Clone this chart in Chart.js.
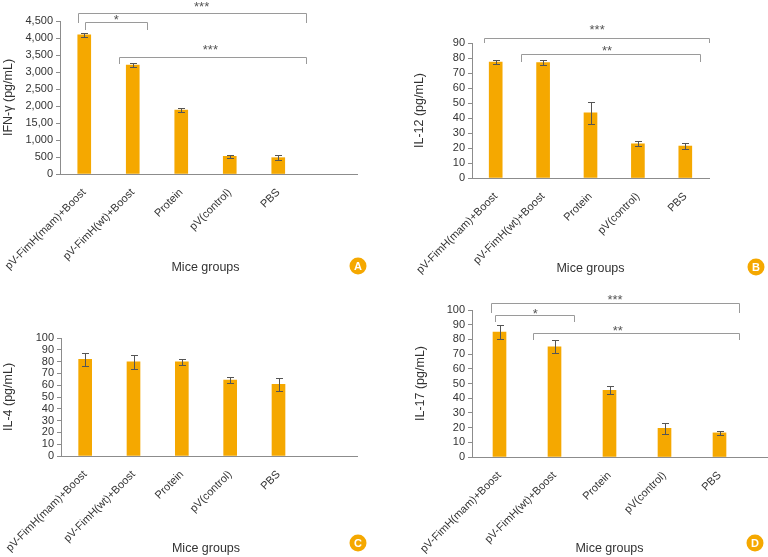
<!DOCTYPE html>
<html>
<head>
<meta charset="utf-8">
<script src="https://cdn.jsdelivr.net/npm/chart.js@4.4.1/dist/chart.umd.min.js"></script>
<style>
  html, body { margin: 0; padding: 0; background: #fff; }
  #wrap { position: relative; width: 768px; height: 557px; }
  canvas { position: absolute; }
</style>
</head>
<body>
<div id="wrap">
  <canvas id="chartA" width="384" height="278" style="left:0;top:0"></canvas>
  <canvas id="chartB" width="384" height="278" style="left:384px;top:0"></canvas>
  <canvas id="chartC" width="384" height="279" style="left:0;top:278px"></canvas>
  <canvas id="chartD" width="384" height="279" style="left:384px;top:278px"></canvas>
</div>
<script>
const groups = ['pV-FimH(mam)+Boost', 'pV-FimH(wt)+Boost', 'Protein', 'pV(control)', 'PBS'];

const ifnG = [4090, 3200, 1880, 520, 480];
const ifnGErr = [70, 55, 60, 50, 65];
const il12 = [77.2, 77, 43.5, 22.8, 21.3];
const il12Err = [1.5, 1.5, 7.2, 1.6, 1.8];
const il4 = [82, 79.7, 79.9, 64.4, 60.7];
const il4Err = [5.5, 5.6, 2.5, 2.6, 5.4];
const il17 = [85, 75, 45.4, 19.5, 16.4];
const il17Err = [5, 4.4, 2.7, 3.6, 1.6];

const yTicksA = ['0', '500', '1,000', '15,00', '2,000', '2,500', '3,000', '3,500', '4,000', '4,500'];
const yTicksB = ['0', '10', '20', '30', '40', '50', '60', '70', '80', '90'];
const yTicksC = ['0', '10', '20', '30', '40', '50', '60', '70', '80', '90', '100'];
const yTicksD = ['0', '10', '20', '30', '40', '50', '60', '70', '80', '90', '100'];

// significance brackets (category index from/to, line level, end level, label and its spot)
const sigA = [
  { from: -0.13, to: 4.57, y: 4726, drop: 4441, label: '***', lx: 2.42, ly: 5000 },
  { from: 0.02, to: 1.3, y: 4479, drop: 4235, label: '*', lx: 0.66, ly: 4590 },
  { from: 0.71, to: 4.57, y: 3432, drop: 3235, label: '***', lx: 2.6, ly: 3735 }
];
const sigB = [
  { from: -0.25, to: 4.5, y: 93.3, drop: 89.8, label: '***', lx: 2.14, ly: 100.5 },
  { from: 0.53, to: 4.31, y: 82.5, drop: 77.1, label: '**', lx: 2.35, ly: 86.5 }
];
const sigD = [
  { from: -0.16, to: 4.35, y: 104.6, drop: 98, label: '***', lx: 2.1, ly: 108.8 },
  { from: -0.08, to: 1.35, y: 96.6, drop: 91.8, label: '*', lx: 0.65, ly: 99.3 },
  { from: 0.61, to: 4.35, y: 84.4, drop: 79.6, label: '**', lx: 2.15, ly: 87.1 }
];

const ORANGE = '#F5A800';
const AXIS = '#8c8c8c';
const TEXT = '#333';
const FONT = "'Liberation Sans', Arial, sans-serif";

const extras = {
  id: 'extras',
  afterDatasetsDraw(chart, args, opts) {
    const ctx = chart.ctx;
    const x = chart.scales.x, y = chart.scales.y;
    const vals = chart.data.datasets[0].data;
    ctx.save();

    // error bars
    ctx.strokeStyle = '#555';
    ctx.lineWidth = 1;
    opts.errors.forEach((e, i) => {
      const px = Math.round(x.getPixelForValue(i)) + 0.5;
      const t = Math.round(y.getPixelForValue(vals[i] + e)) + 0.5;
      const b = Math.round(y.getPixelForValue(vals[i] - e)) + 0.5;
      ctx.beginPath();
      ctx.moveTo(px, t); ctx.lineTo(px, b);
      ctx.moveTo(px - 3.5, t); ctx.lineTo(px + 3.5, t);
      ctx.moveTo(px - 3.5, b); ctx.lineTo(px + 3.5, b);
      ctx.stroke();
    });

    // brackets
    ctx.strokeStyle = '#9a9a9a';
    ctx.fillStyle = '#555';
    ctx.font = '13px ' + FONT;
    ctx.textAlign = 'center';
    ctx.textBaseline = 'alphabetic';
    (opts.sig || []).forEach(s => {
      const x1 = Math.round(x.getPixelForValue(s.from)) + 0.5;
      const x2 = Math.round(x.getPixelForValue(s.to)) + 0.5;
      const yl = Math.round(y.getPixelForValue(s.y)) + 0.5;
      const yd = Math.round(y.getPixelForValue(s.drop));
      ctx.beginPath();
      ctx.moveTo(x1, yd); ctx.lineTo(x1, yl); ctx.lineTo(x2, yl); ctx.lineTo(x2, yd);
      ctx.stroke();
      const m = ctx.measureText(s.label);
      const mid = (m.actualBoundingBoxAscent - m.actualBoundingBoxDescent) / 2;
      ctx.fillText(s.label, x.getPixelForValue(s.lx), y.getPixelForValue(s.ly) + mid);
    });

    // x axis line runs past the last category
    if (opts.axisTo) {
      const yb = Math.round(chart.chartArea.bottom) + 0.5;
      ctx.strokeStyle = AXIS;
      ctx.beginPath();
      ctx.moveTo(chart.chartArea.right, yb);
      ctx.lineTo(opts.axisTo, yb);
      ctx.stroke();
    }

    // panel badge
    ctx.fillStyle = ORANGE;
    ctx.beginPath();
    ctx.arc(opts.badge.x, opts.badge.y, 8.5, 0, Math.PI * 2);
    ctx.fill();
    ctx.fillStyle = '#fff';
    ctx.font = 'bold 11px ' + FONT;
    ctx.textBaseline = 'middle';
    ctx.fillText(opts.badge.text, opts.badge.x, opts.badge.y + 0.5);
    ctx.restore();
  }
};

function makePanel(id, p) {
  return new Chart(document.getElementById(id), {
    type: 'bar',
    data: {
      labels: p.labels,
      datasets: [{
        data: p.values,
        backgroundColor: ORANGE,
        borderWidth: 0,
        barThickness: 13
      }]
    },
    options: {
      responsive: false,
      animation: false,
      devicePixelRatio: 1,
      layout: { padding: p.pad },
      plugins: {
        legend: { display: false },
        tooltip: { enabled: false },
        extras: { errors: p.errors, sig: p.sig, badge: p.badge, axisTo: p.axisTo }
      },
      scales: {
        x: {
          offset: true,
          grid: { display: false },
          border: { color: AXIS },
          ticks: {
            autoSkip: false, minRotation: 45, maxRotation: 45,
            color: TEXT, font: { family: FONT, size: 11 }, padding: 4, labelOffset: 0
          },
          title: {
            display: true, text: 'Mice groups', color: TEXT,
            font: { family: FONT, size: 12.5 }, padding: { top: 0, bottom: p.xTitlePad }
          },
          afterFit: s => { s.height = p.xHeight; s.paddingLeft = 0; s.paddingRight = 0; }
        },
        y: {
          min: 0, max: p.max,
          grid: { display: true, drawOnChartArea: false, tickLength: 4, color: AXIS },
          border: { color: AXIS },
          ticks: {
            stepSize: p.step, autoSkip: false, color: TEXT, padding: 3,
            font: { family: FONT, size: 11 },
            callback: (v, i) => p.ticks[i]
          },
          title: {
            display: true, text: p.yTitle, color: TEXT,
            font: { family: FONT, size: 12.5 }, padding: { top: 0, bottom: 0 }
          },
          afterFit: s => { s.width = p.yWidth; s.paddingTop = 0; s.paddingBottom = 0; }
        }
      }
    },
    plugins: [extras]
  });
}

makePanel('chartA', {
  labels: groups.concat(['']), values: ifnG, errors: ifnGErr, sig: sigA,
  max: 4500, step: 500, ticks: yTicksA, yTitle: 'IFN-γ (pg/mL)',
  pad: { left: 1, right: 33, top: 21, bottom: 0 }, yWidth: 59, xHeight: 104, xTitlePad: 3,
  badge: { x: 358, y: 266, text: 'A' }, axisTo: 358
});
makePanel('chartB', {
  labels: groups, values: il12, errors: il12Err, sig: sigB,
  max: 90, step: 10, ticks: yTicksB, yTitle: 'IL-12 (pg/mL)',
  pad: { left: 28, right: 59, top: 43, bottom: 0 }, yWidth: 60, xHeight: 100, xTitlePad: 2,
  badge: { x: 372, y: 267, text: 'B' }
});
makePanel('chartC', {
  labels: groups.concat(['']), values: il4, errors: il4Err,
  max: 100, step: 10, ticks: yTicksC, yTitle: 'IL-4 (pg/mL)',
  pad: { left: 1, right: 33, top: 60, bottom: 0 }, yWidth: 60, xHeight: 101, xTitlePad: 1,
  badge: { x: 358, y: 265, text: 'C' }, axisTo: 358
});
makePanel('chartD', {
  labels: groups, values: il17, errors: il17Err, sig: sigD,
  max: 100, step: 10, ticks: yTicksD, yTitle: 'IL-17 (pg/mL)',
  pad: { left: 29, right: 21, top: 32, bottom: 0 }, yWidth: 59, xHeight: 100, xTitlePad: 1,
  badge: { x: 371, y: 265, text: 'D' }, axisTo: 384
});
</script>
</body>
</html>
